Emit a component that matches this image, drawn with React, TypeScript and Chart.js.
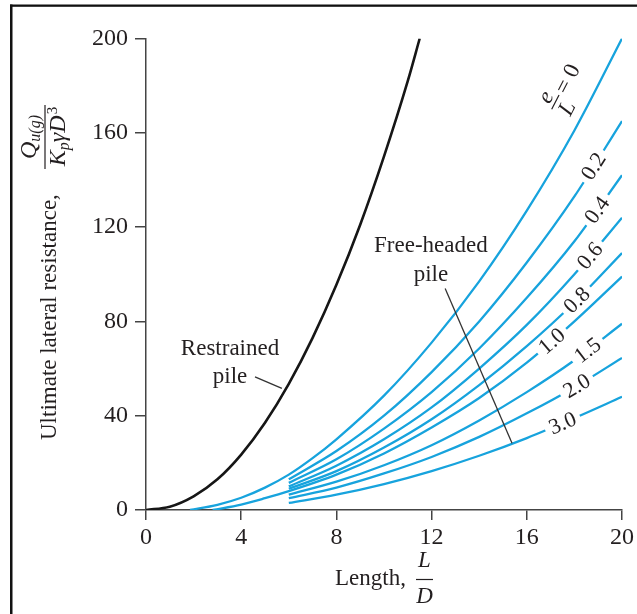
import React, { useEffect, useRef } from 'react';
import { Chart, registerables } from 'chart.js';

Chart.register(...registerables);

const SERIF = "'Liberation Serif', 'Times New Roman', Times, serif";
const BLUE = '#17a3dd';
const INK = '#231f20';

// Restrained pile (black curve)
const restrainedL = [0, 1, 2, 3, 4, 5, 6, 7, 8, 9, 10, 11, 11.5];
const restrainedQ = [0, 1.4, 5.8, 13, 23.5, 37, 53.5, 73, 95.5, 121, 150, 182, 200];

// Free-headed pile, e/L = 0 (long curve)
const eZeroL = [1.85, 3, 4, 5, 6, 7, 8, 10, 12, 14, 16, 18, 20];
const eZeroQ = [0, 2.2, 5.2, 9.5, 15, 22, 30, 48.5, 71, 97, 127, 161, 200];

// e/L = 1.0 (long curve)
const eOneL = [2.8, 4, 5, 6, 8, 10, 12, 14, 16, 18, 20];
const eOneQ = [0, 2.3, 5, 8, 15, 24, 35, 47.5, 62.5, 80, 99];

// short curves start at L/D = 6
const shortL = [6, 8, 10, 12, 14, 16, 18, 20];
const q02 = [13, 25, 40, 58.5, 80, 105, 133, 165];
const q04 = [11.5, 21.5, 34.5, 50, 68.5, 90, 114, 142];
const q06 = [10, 18.8, 30, 43.5, 60, 78.5, 100, 124];
const q08 = [9, 16.5, 26.5, 38.5, 53, 69.5, 88, 109];
const q15 = [6.5, 12, 19, 27.5, 38, 50, 63.5, 79];
const q20 = [5, 9.5, 15.5, 22.5, 31, 41, 52, 64.5];
const q30 = [3, 6.5, 11, 16.5, 23, 30.5, 39, 48];

const curveKeys = ['0.2', '0.4', '0.6', '0.8', '1.0', '1.5', '2.0', '3.0'];
const curveLs = [shortL, shortL, shortL, shortL, eOneL, shortL, shortL, shortL];
const curveQs = [q02, q04, q06, q08, eOneQ, q15, q20, q30];
const labelAtL = [18.8, 18.95, 18.65, 18.1, 17.05, 18.55, 18.1, 17.5];

const xTickStep = 4;
const yTickStep = 40;

function interp(xs: number[], ys: number[], x: number) {
  for (let i = 0; i < xs.length - 1; i++) {
    if (x >= xs[i] && x <= xs[i + 1]) {
      const t = (x - xs[i]) / (xs[i + 1] - xs[i]);
      return ys[i] + t * (ys[i + 1] - ys[i]);
    }
  }
  return ys[ys.length - 1];
}

const toPts = (xs: number[], ys: number[]) => xs.map((x, i) => ({ x, y: ys[i] }));

const overlay = {
  id: 'overlay',
  afterDatasetsDraw(chart: any) {
    const { ctx } = chart;
    const xs = chart.scales.x;
    const ys = chart.scales.y;
    const P = (L: number, Q: number) => [xs.getPixelForValue(L), ys.getPixelForValue(Q)];
    ctx.save();

    // curve labels (break the line)
    ctx.font = `22px ${SERIF}`;
    curveKeys.forEach((k, i) => {
      const Ls = curveLs[i];
      const Qs = curveQs[i];
      const L = labelAtL[i];
      const [px, py] = P(L, interp(Ls, Qs, L));
      const [ax, ay] = P(L - 0.3, interp(Ls, Qs, L - 0.3));
      const [bx, by] = P(L + 0.3, interp(Ls, Qs, L + 0.3));
      const ang = Math.atan2(by - ay, bx - ax);
      const w = ctx.measureText(k).width;
      ctx.save();
      ctx.translate(px, py);
      ctx.rotate(ang);
      ctx.fillStyle = '#fff';
      ctx.fillRect(-w / 2 - 5, -6, w + 10, 12);
      ctx.fillStyle = INK;
      ctx.textAlign = 'center';
      ctx.textBaseline = 'middle';
      ctx.fillText(k, 0, 1);
      ctx.restore();
    });

    // e/L = 0 label
    {
      const [px, py] = P(17.2, 173);
      const [ax, ay] = P(18.3, interp(eZeroL, eZeroQ, 18.3));
      const [bx, by] = P(19.3, interp(eZeroL, eZeroQ, 19.3));
      const ang = Math.atan2(by - ay, bx - ax);
      ctx.save();
      ctx.translate(px, py);
      ctx.rotate(ang);
      ctx.fillStyle = INK;
      ctx.strokeStyle = INK;
      ctx.textAlign = 'center';
      ctx.textBaseline = 'alphabetic';
      ctx.font = `italic 23px ${SERIF}`;
      ctx.fillText('e', 0, -4);
      ctx.fillText('L', 0, 20);
      ctx.lineWidth = 1.2;
      ctx.beginPath();
      ctx.moveTo(-8, 0);
      ctx.lineTo(8, 0);
      ctx.stroke();
      ctx.font = `23px ${SERIF}`;
      ctx.textAlign = 'left';
      ctx.fillText('= 0', 11, 7);
      ctx.restore();
    }

    // annotations
    ctx.fillStyle = INK;
    ctx.font = `23px ${SERIF}`;
    ctx.textAlign = 'center';
    ctx.textBaseline = 'alphabetic';
    let [tx, ty] = P(3.53, 65.8);
    ctx.fillText('Restrained', tx, ty);
    [tx, ty] = P(3.53, 53.9);
    ctx.fillText('pile', tx, ty);
    [tx, ty] = P(11.97, 109.4);
    ctx.fillText('Free-headed', tx, ty);
    [tx, ty] = P(11.97, 97.3);
    ctx.fillText('pile', tx, ty);

    ctx.strokeStyle = '#333';
    ctx.lineWidth = 1.3;
    const seg = (a: number[], b: number[]) => {
      const [x1, y1] = P(a[0], a[1]);
      const [x2, y2] = P(b[0], b[1]);
      ctx.beginPath();
      ctx.moveTo(x1, y1);
      ctx.lineTo(x2, y2);
      ctx.stroke();
    };
    seg([4.58, 56.5], [5.71, 51.6]);
    seg([12.57, 94.0], [15.38, 28.3]);

    // x-axis title
    ctx.textAlign = 'left';
    ctx.font = `23px ${SERIF}`;
    ctx.fillText('Length,', 335, 585);
    ctx.textAlign = 'center';
    ctx.font = `italic 23px ${SERIF}`;
    ctx.fillText('L', 424.5, 567);
    ctx.fillText('D', 424.5, 603);
    ctx.lineWidth = 1.2;
    ctx.strokeStyle = INK;
    ctx.beginPath();
    ctx.moveTo(416, 579.5);
    ctx.lineTo(433, 579.5);
    ctx.stroke();

    // y-axis title (rotated)
    ctx.save();
    ctx.translate(56, 440);
    ctx.rotate(-Math.PI / 2);
    ctx.textAlign = 'left';
    ctx.font = `23px ${SERIF}`;
    ctx.fillText('Ultimate lateral resistance,', 0, 0);
    const uc = 303;
    // numerator Q_u(g)
    ctx.font = `italic 24px ${SERIF}`;
    const wQ = ctx.measureText('Q').width;
    ctx.font = `italic 16px ${SERIF}`;
    const wSub = ctx.measureText('u(g)').width;
    let u0 = uc - (wQ + wSub) / 2;
    ctx.font = `italic 24px ${SERIF}`;
    ctx.fillText('Q', u0, -20);
    ctx.font = `italic 16px ${SERIF}`;
    ctx.fillText('u(g)', u0 + wQ, -16);
    // bar
    ctx.beginPath();
    ctx.moveTo(uc - 32, -11);
    ctx.lineTo(uc + 32, -11);
    ctx.stroke();
    // denominator K_p γ D^3
    ctx.font = `italic 24px ${SERIF}`;
    const wK = ctx.measureText('K').width;
    const wG = ctx.measureText('γD').width;
    ctx.font = `italic 16px ${SERIF}`;
    const wp = ctx.measureText('p').width;
    ctx.font = `15px ${SERIF}`;
    const w3 = ctx.measureText('3').width;
    u0 = uc - (wK + wp + wG + w3) / 2;
    ctx.font = `italic 24px ${SERIF}`;
    ctx.fillText('K', u0, 9);
    ctx.font = `italic 16px ${SERIF}`;
    ctx.fillText('p', u0 + wK, 13);
    ctx.font = `italic 24px ${SERIF}`;
    ctx.fillText('γD', u0 + wK + wp, 9);
    ctx.font = `15px ${SERIF}`;
    ctx.fillText('3', u0 + wK + wp + wG + 1, 1);
    ctx.restore();

    // frame
    ctx.fillStyle = '#111';
    ctx.fillRect(10, 4.5, 2.5, 614);
    ctx.fillRect(10, 4.5, 627, 2.3);

    ctx.restore();
  },
};

export default function App() {
  const ref = useRef<HTMLCanvasElement | null>(null);
  useEffect(() => {
    if (!ref.current) return;
    const lineDs = (data: any[], color: string, width: number) => ({
      data,
      borderColor: color,
      borderWidth: width,
      pointRadius: 0,
      fill: false,
      cubicInterpolationMode: 'monotone' as const,
    });
    const datasets: any[] = [
      lineDs(toPts(restrainedL, restrainedQ), '#161616', 2.6),
      lineDs(toPts(eZeroL, eZeroQ), BLUE, 2.3),
      ...curveKeys.map((_, i) => lineDs(toPts(curveLs[i], curveQs[i]), BLUE, 2.3)),
    ];
    const tickFont = { family: SERIF, size: 24 };
    const chart = new Chart(ref.current, {
      type: 'line',
      data: { datasets },
      plugins: [overlay],
      options: {
        animation: false,
        responsive: false,
        devicePixelRatio: 1,
        layout: { padding: { top: 38.5, right: 15, bottom: 0, left: 0 } },
        plugins: { legend: { display: false }, tooltip: { enabled: false } },
        scales: {
          x: {
            type: 'linear',
            min: 0,
            max: 20,
            ticks: { stepSize: xTickStep, font: tickFont, color: INK, padding: 3, maxRotation: 0 },
            grid: { display: true, drawOnChartArea: false, drawTicks: true, tickLength: 10, color: '#444', lineWidth: 1.5 },
            border: { display: true, color: '#444', width: 1.5 },
            afterFit: (s: any) => { s.height = 104; },
          },
          y: {
            type: 'linear',
            min: 0,
            max: 200,
            ticks: { stepSize: yTickStep, font: tickFont, color: INK, padding: 7 },
            grid: { display: true, drawOnChartArea: false, drawTicks: true, tickLength: 11, color: '#444', lineWidth: 1.5 },
            border: { display: true, color: '#444', width: 1.5 },
            afterFit: (s: any) => { s.width = 146; },
          },
        },
      } as any,
    });
    return () => chart.destroy();
  }, []);
  return (
    <div style={{ position: 'absolute', left: 0, top: 0, width: 637, height: 614, background: '#fff' }}>
      <canvas ref={ref} width={637} height={614} style={{ display: 'block' }} />
    </div>
  );
}
